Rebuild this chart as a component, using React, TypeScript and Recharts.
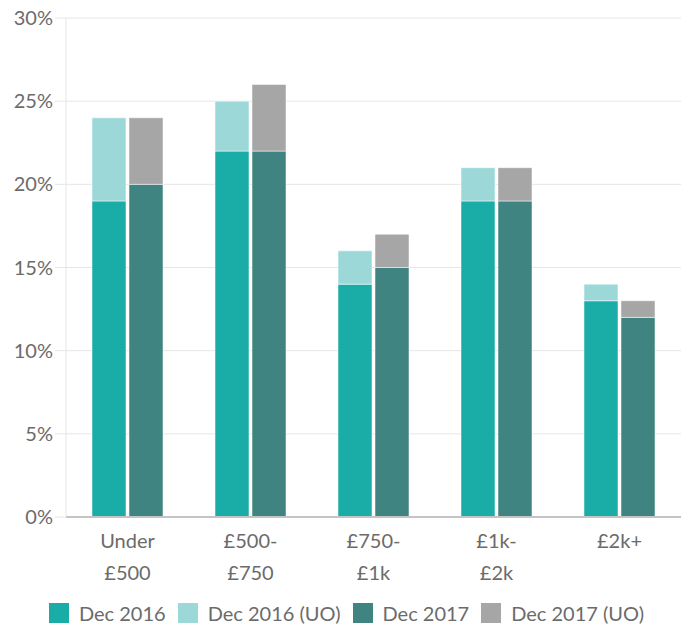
import React from "react";
import {
  BarChart,
  Bar,
  XAxis,
  YAxis,
  CartesianGrid,
  Legend,
} from "recharts";

const categories = ["Under £500", "£500-£750", "£750-£1k", "£1k-£2k", "£2k+"];
const categoryLines = [
  ["Under", "£500"],
  ["£500-", "£750"],
  ["£750-", "£1k"],
  ["£1k-", "£2k"],
  ["£2k+"],
];
const dec2016 = [19, 22, 14, 19, 13];
const dec2016UO = [5, 3, 2, 2, 1];
const dec2017 = [20, 22, 15, 19, 12];
const dec2017UO = [4, 4, 2, 2, 1];
const yTicks = [0, 5, 10, 15, 20, 25, 30];

const series = [
  { key: "dec2016", name: "Dec 2016", color: "#1aada8", stack: "a" },
  { key: "dec2016UO", name: "Dec 2016 (UO)", color: "#9dd8d8", stack: "a" },
  { key: "dec2017", name: "Dec 2017", color: "#3f8480", stack: "b" },
  { key: "dec2017UO", name: "Dec 2017 (UO)", color: "#a6a6a6", stack: "b" },
];

const data = categories.map((name, i) => ({
  name,
  dec2016: dec2016[i],
  dec2016UO: dec2016UO[i],
  dec2017: dec2017[i],
  dec2017UO: dec2017UO[i],
}));

const FONT = "Lato, 'Open Sans', sans-serif";
const TEXT = "#6b6b6b";

const CategoryTick = (props: any) => {
  const { x, y, index } = props;
  const lines = categoryLines[index] || [];
  return (
    <g transform={`translate(${x},${y})`}>
      {lines.map((line, i) => (
        <text
          key={i}
          x={0}
          y={0}
          dy={23 + i * 32}
          textAnchor="middle"
          fill={TEXT}
          fontSize={20}
          fontFamily={FONT}
        >
          {line}
        </text>
      ))}
    </g>
  );
};

const LegendContent = () => (
  <div
    style={{
      display: "flex",
      justifyContent: "center",
      alignItems: "center",
      fontFamily: FONT,
      fontSize: 20,
      color: TEXT,
      paddingLeft: 24,
      paddingTop: 14,
    }}
  >
    {series.map((s) => (
      <div
        key={s.key}
        style={{ display: "flex", alignItems: "center", marginRight: 12 }}
      >
        <span
          style={{
            display: "inline-block",
            width: 20,
            height: 20,
            background: s.color,
            marginRight: 10,
          }}
        />
        {s.name}
      </div>
    ))}
  </div>
);

export default function App() {
  return (
    <div style={{ position: "absolute", left: 0, top: 0 }}>
      <BarChart
        width={686}
        height={627}
        data={data}
        margin={{ top: 18, right: 5, left: 0, bottom: 0 }}
        barCategoryGap={26}
        barGap={3}
      >
        <CartesianGrid vertical={false} stroke="#e6e6e6" />
        <XAxis
          dataKey="name"
          height={70}
          interval={0}
          tickLine={false}
          axisLine={{ stroke: "#c4c4c4", strokeWidth: 2 }}
          tick={<CategoryTick />}
        />
        <YAxis
          width={66}
          domain={[0, 30]}
          ticks={yTicks}
          tickFormatter={(v) => `${v}%`}
          tickSize={11}
          tickLine={{ stroke: "#e6e6e6" }}
          axisLine={{ stroke: "#e6e6e6" }}
          tick={{ fill: TEXT, fontSize: 20, fontFamily: FONT }}
        />
        <Legend
          verticalAlign="bottom"
          height={40}
          content={<LegendContent />}
        />
        {series.map((s) => (
          <Bar
            key={s.key}
            dataKey={s.key}
            name={s.name}
            stackId={s.stack}
            fill={s.color}
            stroke="#ffffff"
            strokeOpacity={0.5}
            strokeWidth={1}
            isAnimationActive={false}
          />
        ))}
      </BarChart>
    </div>
  );
}
